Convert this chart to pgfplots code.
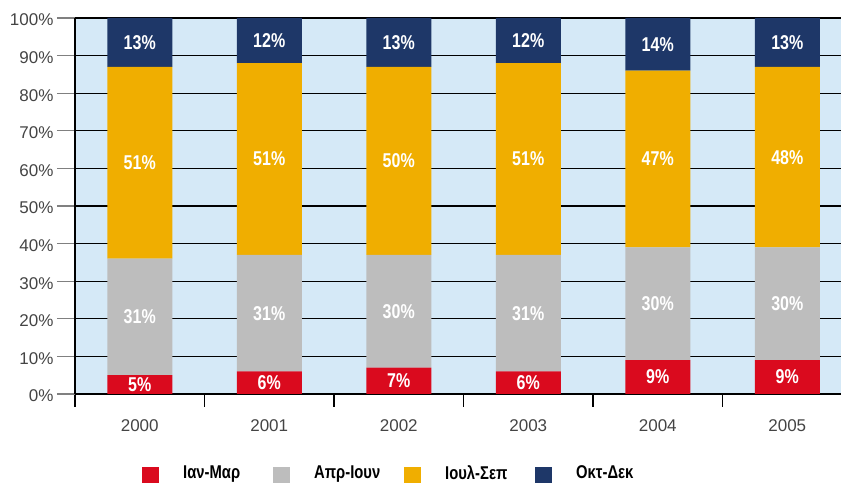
\documentclass[border=0pt]{standalone}
\usepackage{pgfplots}
\pgfplotsset{compat=1.18}
\usepackage{pgfplotstable}
\usepackage{fontspec}
\setmainfont{Liberation Sans}
\newfontfamily\cond[FakeStretch=0.8]{Liberation Sans}
\definecolor{cred}{HTML}{DA0A1E}
\definecolor{cgrey}{HTML}{BDBDBD}
\definecolor{cyel}{HTML}{F0AE00}
\definecolor{cnavy}{HTML}{1E3768}
\definecolor{cbg}{HTML}{D5E9F7}
\definecolor{ctick}{HTML}{444444}
\pgfplotstableread{
x q1 q2 q3 q4
0 5 31 51 13
1 6 31 51 12
2 7 30 50 13
3 6 31 51 12
4 9 30 47 14
5 9 30 48 13
}\datatable
\pgfplotsset{
  sq/.style={legend image code/.code={\fill[##1] (0pt,-9.5pt) rectangle (17pt,6.5pt);}},
  lbl/.style={
    point meta=explicit symbolic,
    nodes near coords={\pgfplotspointmeta\%},
    every node near coord/.append style={anchor=center,
      text=white, font=\cond\bfseries\fontsize{20}{24}\selectfont},
  },
}
\begin{document}
\begin{tikzpicture}
\begin{axis}[
  at={(0,0)}, anchor=south west,
  scale only axis, width=766pt, height=376pt,
  ybar stacked, bar width=65pt,
  xmin=-0.5, xmax=5.415, ymin=0, ymax=100,
  enlargelimits=false,
  axis x line*=bottom, axis y line*=left,
  axis line style={-, black},
  x axis line style={line width=2pt},
  y axis line style={line width=1.5pt},
  axis background/.style={fill=cbg},
  ymajorgrids, major grid style={black, line width=1.2pt},
  ytick={0,10,...,100},
  yticklabels={0\%,10\%,20\%,30\%,40\%,50\%,60\%,70\%,80\%,90\%,100\%},
  xtick={0,...,5},
  xticklabels={2000,2001,2002,2003,2004,2005},
  minor xtick={-0.5,0.5,1.5,2.5,3.5,4.5},
  tick align=outside,
  major tick length=18pt,
  minor tick length=13pt,
  major x tick style={draw=none},
  minor x tick style={black, line width=1.2pt},
  major y tick style={gray, line width=1.2pt},
  tick label style={text=ctick, font=\fontsize{17}{20}\selectfont},
  yticklabel style={yshift=-2pt},
  xticklabel style={yshift=-4pt},
  legend columns=4,
  legend style={at={(0.0875,-0.2128)}, anchor=west, draw=none, fill=none,
    inner sep=0pt, /tikz/column sep=0pt,
    nodes={inner sep=0pt, font=\cond\bfseries\fontsize{18.5}{22}\selectfont}},
]
\addplot[fill=cred, draw=none, sq, lbl] table[x=x, y=q1, meta=q1] {\datatable};
\addlegendentry{\hspace*{24pt}\makebox[90pt][l]{Ιαν-Μαρ}}
\addplot[fill=cgrey, draw=none, sq, lbl] table[x=x, y=q2, meta=q2] {\datatable};
\addlegendentry{\hspace*{24pt}\makebox[90pt][l]{Απρ-Ιουν}}
\addplot[fill=cyel, draw=none, sq, lbl] table[x=x, y=q3, meta=q3] {\datatable};
\addlegendentry{\hspace*{24pt}\makebox[90pt][l]{Ιουλ-Σεπ}}
\addplot[fill=cnavy, draw=none, sq, lbl] table[x=x, y=q4, meta=q4] {\datatable};
\addlegendentry{\hspace*{24pt}\makebox[90pt][l]{Οκτ-Δεκ}}
\end{axis}
\pgfresetboundingbox
\path (-75pt,-90pt) rectangle (766pt,394pt);
\end{tikzpicture}
\end{document}
